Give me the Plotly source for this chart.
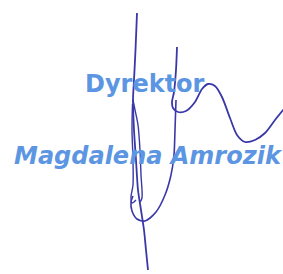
import plotly.graph_objects as go

# Printed stamp text
title_text = "Dyrektor"
name_text = "Magdalena Amrozik"

# Handwritten signature strokes (pixel coords, y down)
stroke_main_x = [137, 135.5, 134, 133, 134, 136, 138, 141, 144, 146, 148]
stroke_main_y = [13, 50, 80, 100, 130, 160, 190, 210, 230, 250, 270]

stroke_loop_a_x = [133, 135, 138, 140, 141, 142, 140]
stroke_loop_a_y = [100, 110, 125, 150, 175, 198, 202]

stroke_loop_b_x = [132.5, 132, 133, 133, 131, 132, 136]
stroke_loop_b_y = [104, 130, 160, 185, 197, 203, 200]

stroke_wave_x = [177, 176, 174, 172, 173, 178, 186, 195, 202, 208, 215, 222, 230, 237, 245, 255, 265, 275, 284]
stroke_wave_y = [47, 70, 92, 102, 108, 112, 111, 102, 89, 84, 86, 97, 118, 135, 142, 140, 133, 120, 109]

stroke_hook_x = [176, 175, 174, 171, 165, 156, 145, 137, 132, 131, 133]
stroke_hook_y = [100, 130, 155, 175, 195, 212, 221, 219, 211, 202, 196]

ink = "rgb(58,56,168)"
stamp = "rgb(92,150,226)"

fig = go.Figure()

fig.add_annotation(x=83, y=84, xref="x", yref="y", text=title_text,
                   showarrow=False, xanchor="left", yanchor="middle",
                   font=dict(family="DejaVu Sans", size=24, color=stamp, weight="bold"))
fig.add_annotation(x=12, y=156, xref="x", yref="y", text=name_text,
                   showarrow=False, xanchor="left", yanchor="middle",
                   font=dict(family="DejaVu Sans", size=24, color=stamp, weight="bold", style="italic"))

for xs, ys, w in [(stroke_main_x, stroke_main_y, 1.8),
                  (stroke_loop_a_x, stroke_loop_a_y, 1.4),
                  (stroke_loop_b_x, stroke_loop_b_y, 1.4),
                  (stroke_wave_x, stroke_wave_y, 1.8),
                  (stroke_hook_x, stroke_hook_y, 1.6)]:
    fig.add_trace(go.Scatter(x=xs, y=ys, mode="lines",
                             line=dict(color=ink, width=w, shape="spline", smoothing=0.8),
                             hoverinfo="skip", showlegend=False))

fig.update_layout(width=283, height=274, margin=dict(l=0, r=0, t=0, b=0),
                  paper_bgcolor="white", plot_bgcolor="white", showlegend=False)
fig.update_xaxes(range=[0, 283], visible=False, fixedrange=True)
fig.update_yaxes(range=[274, 0], visible=False, fixedrange=True)

fig.write_html("out.html", config={"displayModeBar": False},
               post_script="document.body.style.margin='0';document.body.style.overflow='hidden';")
